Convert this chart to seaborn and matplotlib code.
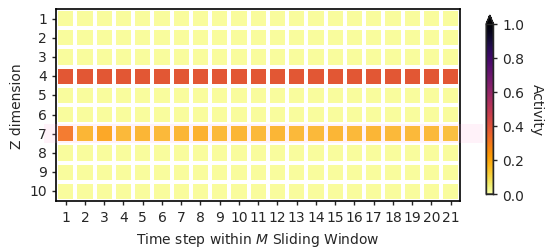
import matplotlib
matplotlib.use('Agg')
import matplotlib.pyplot as plt
from matplotlib.patches import Rectangle
import numpy as np
import pandas as pd
import seaborn as sns

# Rows are Z dimensions, columns are time steps in the sliding window
z_labels = [str(i) for i in range(1, 11)]
t_labels = [str(i) for i in range(1, 22)]

base_row = [0.01] * 21
row_4 = [0.38, 0.38, 0.38, 0.38, 0.38, 0.38, 0.38, 0.38, 0.38, 0.38, 0.38,
         0.38, 0.38, 0.38, 0.38, 0.38, 0.38, 0.38, 0.38, 0.38, 0.38]
row_7 = [0.3, 0.16, 0.19, 0.15, 0.16, 0.15, 0.16, 0.17, 0.15, 0.16, 0.15,
         0.16, 0.15, 0.15, 0.16, 0.15, 0.16, 0.15, 0.15, 0.15, 0.14]

rows = [base_row, base_row, base_row, row_4, base_row, base_row, row_7,
        base_row, base_row, base_row]
df = pd.DataFrame(rows, index=z_labels, columns=t_labels)

sns.set_style('white')
plt.rcParams['font.family'] = ['DejaVu Sans']

fig = plt.figure(figsize=(5.5, 2.51), dpi=100)
ax = fig.add_axes([0.102, 0.195, 0.735, 0.765])
cax = fig.add_axes([0.884, 0.223, 0.013, 0.713])

sns.heatmap(df, ax=ax, cbar_ax=cax, cmap='inferno_r', vmin=0, vmax=1,
            linewidths=2.6, linecolor='white',
            cbar_kws={'extend': 'max'})

# pink highlight band on row 7
band = Rectangle((-0.03, 0.3), 1.085, 0.1, transform=ax.transAxes,
                 facecolor='#ff9ed8', alpha=0.13, edgecolor='none',
                 clip_on=False, zorder=3)
ax.add_patch(band)

for s in ax.spines.values():
    s.set_visible(True)
    s.set_color('black')
    s.set_linewidth(1.2)
ax.tick_params(axis='both', length=3, width=1, labelsize=10, bottom=True, left=True)
ax.set_yticklabels(z_labels, rotation=0)
ax.set_xticklabels(t_labels, rotation=0)
ax.set_ylabel('Z dimension', fontsize=10)
ax.set_xlabel('Time step within $M$ Sliding Window', fontsize=10)

cax.tick_params(length=3, width=1, labelsize=10, right=True)
cax.set_yticks([0, 0.2, 0.4, 0.6, 0.8, 1.0])
cax.set_ylabel('Activity', fontsize=10, rotation=270, labelpad=14)
for s in cax.spines.values():
    s.set_visible(True)
    s.set_linewidth(1)

fig.savefig('out.png', dpi=100)
